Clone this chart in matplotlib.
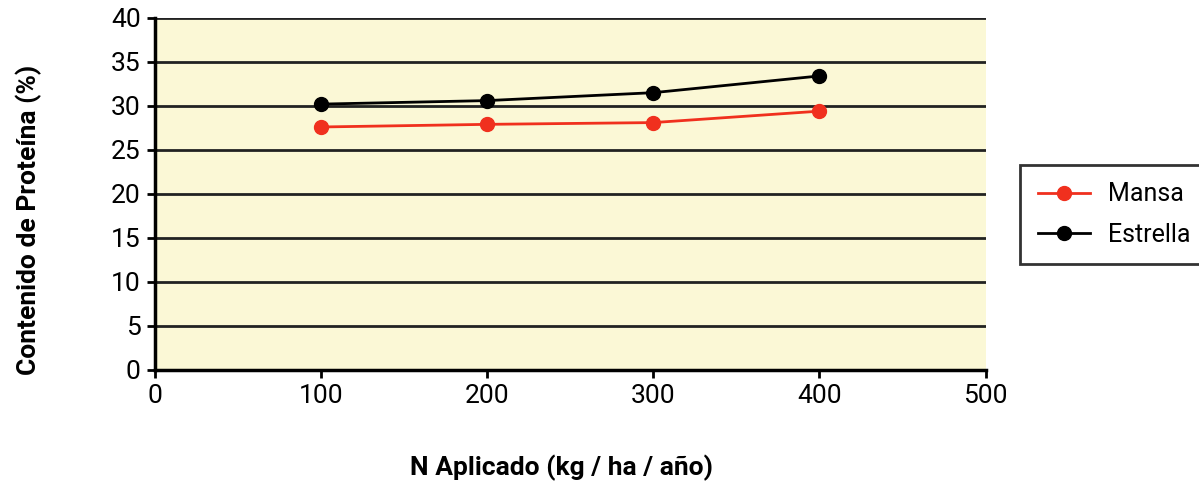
import matplotlib
matplotlib.use('Agg')
import matplotlib.pyplot as plt

plt.rcParams['font.family'] = ['Roboto', 'DejaVu Sans']

n_aplicado = [100, 200, 300, 400]
mansa = [27.6, 27.9, 28.1, 29.4]
estrella = [30.2, 30.6, 31.5, 33.4]
x_ticks = [0, 100, 200, 300, 400, 500]
y_ticks = [0, 5, 10, 15, 20, 25, 30, 35, 40]

fig = plt.figure(figsize=(11.99, 4.84), dpi=100)
ax = fig.add_axes([0.129, 0.236, 0.693, 0.727])
ax.set_facecolor('#fbf8d6')

ax.plot(n_aplicado, mansa, color='#f0301e', lw=2, marker='o', ms=10, label='Mansa', zorder=3)
ax.plot(n_aplicado, estrella, color='black', lw=2, marker='o', ms=10, label='Estrella', zorder=3)

ax.set_xlim(0, 500)
ax.set_ylim(0, 40)
ax.set_xticks(x_ticks)
ax.set_yticks(y_ticks)
ax.yaxis.grid(True, color='#222222', lw=2)
ax.set_axisbelow(True)
for s in ['top', 'right']:
    ax.spines[s].set_visible(False)
ax.spines['left'].set_linewidth(2.5)
ax.spines['bottom'].set_linewidth(2.5)
ax.tick_params(direction='out', length=6, width=2, labelsize=19, pad=4)

ax.set_ylabel('Contenido de Proteína (%)', fontsize=19, fontweight='bold')
ax.set_xlabel('N Aplicado (kg / ha / año)', fontsize=19, fontweight='bold')
ax.yaxis.set_label_coords(-0.136, 0.426)
ax.xaxis.set_label_coords(0.49, -0.24)

leg = fig.legend(loc='upper left', bbox_to_anchor=(1020 / 1199, 1 - 165 / 484),
                 frameon=True, fancybox=False, edgecolor='black', borderpad=0.7,
                 handlelength=2.1, handletextpad=0.7, labelspacing=0.65, borderaxespad=0,
                 prop={'size': 18})
leg.get_frame().set_linewidth(2)

fig.savefig('out.png', dpi=100)
